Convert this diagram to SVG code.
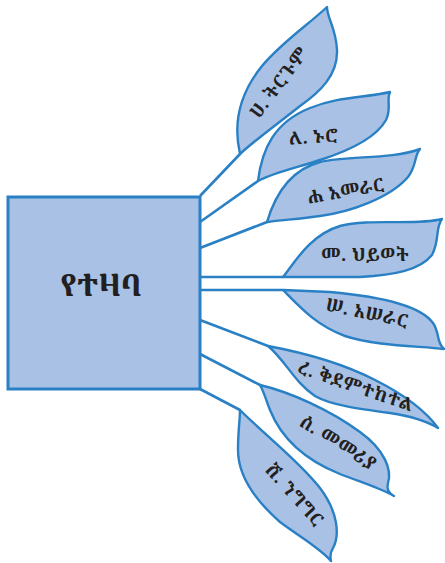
<svg xmlns="http://www.w3.org/2000/svg" width="445" height="563" viewBox="0 0 445 563">
<style>
.leaf{fill:#a8c1e5;stroke:#2a80c4;stroke-width:2.4;stroke-linejoin:round}
.box{fill:#a8c1e5;stroke:#2a80c4;stroke-width:3}
.con{stroke:#2a80c4;stroke-width:2.6;fill:none}
text{font-family:"Noto Serif Ethiopic","Noto Sans Ethiopic","Abyssinica SIL","DejaVu Sans",serif;fill:#231f20;font-weight:bold;text-anchor:middle}
.lt{font-size:18px;letter-spacing:0.5px}
</style>
<rect width="445" height="563" fill="#ffffff"/>
<g id="connectors">
<line class="con" x1="200" y1="196" x2="240" y2="154"/>
<line class="con" x1="200" y1="222" x2="258" y2="181"/>
<line class="con" x1="200" y1="248" x2="267" y2="222"/>
<line class="con" x1="200" y1="277" x2="283" y2="277"/>
<line class="con" x1="200" y1="290" x2="283" y2="290"/>
<line class="con" x1="200" y1="320" x2="268" y2="346"/>
<line class="con" x1="200" y1="354" x2="260" y2="385"/>
<line class="con" x1="200" y1="389" x2="240" y2="410"/>
</g>
<g id="center">
<rect class="box" x="8" y="197" width="192" height="192"/>
<text x="101" y="296" font-size="31">የተዛባ</text>
</g>
<g id="leaf1">
<path class="leaf" d="M240,154 C234,128 236,98 262,66 C282,42 308,25 327,7 C327,18 336,28 337,50 C338,75 320,92 300,106 C280,122 255,140 240,154 Z"/>
<text class="lt" transform="translate(284,86) rotate(-53)">ሀ. ትርጉም</text>
</g>
<g id="leaf2">
<path class="leaf" d="M258,181 C262,148 275,122 310,108 C340,96 365,98 390,92 C386,100 392,108 386,120 C375,140 345,152 320,160 C300,167 275,172 258,181 Z"/>
<text class="lt" transform="translate(314,143) rotate(-4)">ለ. ኑሮ</text>
</g>
<g id="leaf3">
<path class="leaf" d="M267,222 C275,195 290,170 320,162 C350,155 390,160 420,149 C414,156 417,165 408,177 C390,198 350,212 320,216 C300,219 280,220 267,222 Z"/>
<text class="lt" transform="translate(347,197) rotate(-10)">ሐ አመራር</text>
</g>
<g id="leaf4">
<path class="leaf" d="M283,277 C295,262 310,235 340,226 C370,218 415,226 442,219 C435,228 440,240 432,255 C420,270 395,275 360,277 L283,277 Z"/>
<text class="lt" x="365" y="261">መ. ህይወት</text>
</g>
<g id="leaf5">
<path class="leaf" d="M283,290 L330,292 C375,296 420,305 433,323 C440,333 436,342 444,349 C420,346 375,346 345,336 C315,325 298,305 283,290 Z"/>
<text class="lt" transform="translate(366,319) rotate(12)">ሠ. አሠራር</text>
</g>
<g id="leaf6">
<path class="leaf" d="M268,346 C300,352 340,362 375,380 C405,395 425,410 438,428 C425,420 410,416 390,413 C360,409 330,405 315,396 C295,383 285,360 268,346 Z"/>
<text class="lt" transform="translate(354,392) rotate(19)">ረ. ቅደምተከተል</text>
</g>
<g id="leaf7">
<path class="leaf" d="M260,385 C290,392 330,410 360,432 C385,450 392,470 388,483 C386,490 390,494 394,496 C380,488 360,482 340,474 C300,458 280,435 270,410 C266,400 264,392 260,385 Z"/>
<text class="lt" transform="translate(335,448) rotate(32)">ሰ. መመሪያ</text>
</g>
<g id="leaf8">
<path class="leaf" d="M240,410 C265,435 300,462 320,488 C338,512 340,535 333,548 C330,553 330,557 331,561 C320,548 300,537 280,522 C255,500 238,475 238,450 C238,430 240,420 240,410 Z"/>
<text class="lt" transform="translate(290,499) rotate(48)">ሸ. ንግግር</text>
</g>
</svg>
